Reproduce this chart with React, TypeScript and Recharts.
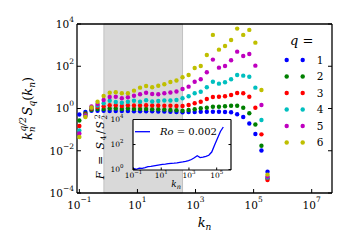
import React from 'react';
import { ScatterChart, Scatter, XAxis, YAxis, ReferenceArea, LineChart, Line } from 'recharts';

// shell wavenumbers k_n
const kn = [0.1, 0.1618, 0.2618, 0.4236, 0.6854, 1.109, 1.794, 2.903, 4.698, 7.601, 12.3, 19.9, 32.2, 52.1, 84.3, 136.4, 220.7, 357.1, 577.8, 934.9, 1512.7, 2447.6, 3960.3, 6407.9, 10368, 16776, 27144, 43920, 71065, 114985, 186050, 301035];

// k_n^{q/2} S_q(k_n) for q = 1..6
const q1 = [0.52, 0.683, 0.787, 0.787, 0.778, 0.762, 0.762, 0.762, 0.762, 0.745, 0.745, 0.737, 0.737, 0.721, 0.721, 0.705, 0.683, 0.661, 0.683, 0.683, 0.705, 0.705, 0.705, 0.705, 0.683, 0.661, 0.531, 0.396, 0.195, 0.0618, 0.0102, 0.00101];
const q2 = [0.27, 0.58, 0.877, 0.947, 0.947, 1.0, 1.0, 0.947, 1.0, 0.947, 0.947, 0.947, 0.917, 0.917, 0.897, 0.849, 0.822, 0.787, 0.849, 0.917, 1.02, 1.09, 1.22, 1.22, 1.27, 1.36, 1.36, 1.09, 0.592, 0.175, 0.0173, 0.000481];
const q3 = [0.148, 0.52, 1.0, 1.18, 1.27, 1.42, 1.42, 1.31, 1.42, 1.39, 1.39, 1.42, 1.39, 1.39, 1.36, 1.36, 1.31, 1.31, 1.47, 1.76, 2.1, 2.82, 3.51, 3.62, 3.79, 4.36, 5.43, 5.25, 3.62, 1.09, 0.0598, 0.000408];
const q4 = [0.0906, 0.466, 1.11, 1.39, 1.76, 2.34, 2.03, 1.88, 2.1, 2.34, 2.1, 2.45, 2.15, 2.27, 2.39, 2.39, 2.53, 3.04, 3.79, 5.25, 6.25, 10.1, 18.6, 15.0, 17.5, 24.2, 38.7, 35.8, 32.1, 9.7, 0.285, 0.000537];
const q5 = [0.0653, 0.441, 1.24, 1.63, 2.53, 3.51, 3.62, 3.04, 3.4, 4.04, 4.71, 5.61, 4.87, 4.71, 5.25, 5.73, 6.4, 8.4, 10.8, 18.6, 24.2, 52, 206, 86, 103, 192, 492, 308, 383, 107, 1.47, 0.000598];
const q6 = [0.0446, 0.396, 1.11, 2.1, 3.91, 5.61, 5.86, 5.25, 5.25, 6.98, 9.7, 11.6, 10.1, 12.0, 14.0, 18.0, 21.2, 30.1, 38.7, 83, 103, 343, 3040, 612, 916, 1760, 6050, 3040, 5250, 1310, 7.5, 0.000745];

// inset: flatness F = S4/S2^2
const flatness = [1.26, 1.05, 1.32, 1.26, 1.45, 1.7, 1.82, 2.0, 2.19, 2.4, 2.63, 2.75, 2.95, 3.16, 3.24, 3.47, 3.8, 4.07, 4.47, 5.13, 6.31, 8.71, 12.6, 9.12, 9.77, 11.5, 13.8, 25.1, 91.2, 316, 1096, 2512];

const qLabels = ['1', '2', '3', '4', '5', '6'];
const colors = ['#0000ff', '#008000', '#ff0000', '#00bfbf', '#bf00bf', '#bfbf00'];
const series = [q1, q2, q3, q4, q5, q6];
const mainXTicks = [0.1, 10, 1000, 1e5, 1e7];
const mainYTicks = [1e-4, 1e-2, 1, 100, 1e4];
const insetXTicks = [0.1, 10, 1000, 1e5];
const insetYTicks = [1, 100, 1e4];
const shade = [0.7, 357];
const roValue = '0.002';

const SERIF = "'DejaVu Serif', serif";

const expOf = (v: number) => {
  const e = Math.round(Math.log10(v));
  return e < 0 ? '\u2212' + String(-e) : String(e);
};

const mkTick = (side: string, len: number, fs: number, sfs: number, off: number, supDy: number, label: boolean) => (props: any) => {
  const { x, y, payload } = props;
  let line;
  let txt = null;
  if (side === 'bottom') {
    line = <line x1={x} x2={x} y1={y} y2={y - len} stroke="#000" strokeWidth={1} />;
    if (label) txt = (
      <text x={x} y={y + off} textAnchor="middle" fontFamily={SERIF} fontSize={fs} fill="#000">
        10<tspan dy={supDy} fontSize={sfs}>{expOf(payload.value)}</tspan>
      </text>
    );
  } else if (side === 'top') {
    line = <line x1={x} x2={x} y1={y} y2={y + len} stroke="#000" strokeWidth={1} />;
  } else if (side === 'left') {
    line = <line x1={x} x2={x + len} y1={y} y2={y} stroke="#000" strokeWidth={1} />;
    if (label) txt = (
      <text x={x - off} y={y + fs * 0.36} textAnchor="end" fontFamily={SERIF} fontSize={fs} fill="#000">
        10<tspan dy={supDy} fontSize={sfs}>{expOf(payload.value)}</tspan>
      </text>
    );
  } else {
    line = <line x1={x} x2={x - len} y1={y} y2={y} stroke="#000" strokeWidth={1} />;
  }
  return <g>{line}{txt}</g>;
};

const axisCommon = {
  type: 'number' as const,
  scale: 'log' as const,
  allowDataOverflow: true,
  tickLine: false,
  tickSize: 0,
  tickMargin: 0,
  interval: 0 as const,
};

const mainDomX: [number, number] = [0.083, 5e7];
const mainDomY: [number, number] = [1e-4, 1e4];
const insDomX: [number, number] = [0.092, 1.08e6];
const insDomY: [number, number] = [0.92, 1e4];

export default function App() {
  const scatterData = series.map((s) => s.map((v, i) => ({ k: kn[i], v })));
  const insetData = kn.map((k, i) => ({ k, F: flatness[i] }));
  const mainAxisLine = { stroke: '#000', strokeWidth: 1.3 };
  const insAxisLine = { stroke: '#000', strokeWidth: 1.2 };
  const rowY = [52, 68.5, 85, 101.5, 118, 134.5];

  return (
    <div style={{ position: 'relative', width: 334, height: 234, overflow: 'hidden' }}>
      <ScatterChart width={334} height={234} margin={{ top: 15, right: 9, bottom: 0, left: 0 }}>
        <XAxis xAxisId="b" dataKey="k" {...axisCommon} domain={mainDomX} ticks={mainXTicks} height={49} axisLine={mainAxisLine}
          tick={mkTick('bottom', 4, 10.5, 7.5, 15.5, -6.5, true)} />
        <XAxis xAxisId="t" orientation="top" {...axisCommon} domain={mainDomX} ticks={mainXTicks} height={1} axisLine={mainAxisLine}
          tick={mkTick('top', 4, 10.5, 7.5, 0, 0, false)} />
        <YAxis yAxisId="l" dataKey="v" {...axisCommon} domain={mainDomY} ticks={mainYTicks} width={69} axisLine={mainAxisLine}
          tick={mkTick('left', 4, 10.5, 7.5, 3, -6, true)} />
        <YAxis yAxisId="r" orientation="right" {...axisCommon} domain={mainDomY} ticks={mainYTicks} width={1} axisLine={mainAxisLine}
          tick={mkTick('right', 4, 10.5, 7.5, 0, 0, false)} />
        <ReferenceArea xAxisId="b" yAxisId="l" x1={shade[0]} x2={shade[1]} y1={mainDomY[0]} y2={mainDomY[1]} fill="#d9d9d9" fillOpacity={1} stroke="#c2c2c2" strokeWidth={1} />
        {scatterData.map((d, si) => (
          <Scatter key={si} xAxisId="b" yAxisId="l" data={d} dataKey="v" isAnimationActive={false}
            shape={(p: any) => <circle cx={p.cx} cy={p.cy} r={2.2} fill={colors[si]} />} />
        ))}
      </ScatterChart>

      <div style={{ position: 'absolute', left: 125, top: 111.5, width: 98, height: 50.5, background: '#fff' }} />

      <div style={{ position: 'absolute', left: 85, top: 100 }}>
        <LineChart width={150} height={95} data={insetData} margin={{ top: 10.5, right: 11, bottom: 0, left: 0 }}>
          <XAxis xAxisId="b" dataKey="k" {...axisCommon} domain={insDomX} ticks={insetXTicks} height={33} axisLine={insAxisLine}
            tick={mkTick('bottom', 2.5, 7.5, 5.5, 8.3, -4, true)} />
          <XAxis xAxisId="t" orientation="top" {...axisCommon} domain={insDomX} ticks={insetXTicks} height={1} axisLine={insAxisLine}
            tick={mkTick('top', 2.5, 7.5, 5.5, 0, 0, false)} />
          <YAxis yAxisId="l" {...axisCommon} domain={insDomY} ticks={insetYTicks} width={40} axisLine={insAxisLine}
            tick={mkTick('left', 2.5, 7.5, 5.5, 9.5, -4, true)} />
          <YAxis yAxisId="r" orientation="right" {...axisCommon} domain={insDomY} ticks={insetYTicks} width={1} axisLine={insAxisLine}
            tick={mkTick('right', 2.5, 7.5, 5.5, 0, 0, false)} />
          <Line xAxisId="b" yAxisId="l" type="linear" dataKey="F" stroke="#0000ff" strokeWidth={1.3} dot={false} isAnimationActive={false} />
        </LineChart>
      </div>

      <svg width={334} height={234} style={{ position: 'absolute', left: 0, top: 0, pointerEvents: 'none' }}>
        {/* main y label */}
        <text transform="translate(23.5,100.5) rotate(-90)" textAnchor="middle" fontFamily={SERIF} fontSize={13} fontStyle="italic" fill="#000">
          <tspan>k</tspan>
          <tspan fontSize={9} dy={3}>n</tspan>
          <tspan fontSize={9} dx={-5} dy={-9}>q/2</tspan>
          <tspan dx={1.5} dy={6}>S</tspan>
          <tspan fontSize={9} dy={3}>q</tspan>
          <tspan fontStyle="normal" dy={-3}>(</tspan>
          <tspan>k</tspan>
          <tspan fontSize={9} dy={3}>n</tspan>
          <tspan fontStyle="normal" dy={-3}>)</tspan>
        </text>
        {/* main x label */}
        <text x={196.5} y={218.5} textAnchor="middle" fontFamily={SERIF} fontSize={13} fontStyle="italic" fill="#000">
          <tspan>k</tspan>
          <tspan fontSize={9} dy={3}>n</tspan>
        </text>
        {/* legend */}
        <text x={282} y={37} fontFamily={SERIF} fontSize={13} fill="#000">
          <tspan fontStyle="italic">q</tspan>
          <tspan>{' ='}</tspan>
        </text>
        {qLabels.map((lab, i) => (
          <g key={lab}>
            <circle cx={278.7} cy={rowY[i]} r={2.2} fill={colors[i]} />
            <circle cx={294.7} cy={rowY[i]} r={2.2} fill={colors[i]} />
            <text x={308.7} y={rowY[i] + 3.8} fontFamily={SERIF} fontSize={10.5} fill="#000">{lab}</text>
          </g>
        ))}
        {/* inset legend */}
        <line x1={127} x2={142} y1={123.7} y2={123.7} stroke="#0000ff" strokeWidth={1.3} />
        <text x={152} y={127.2} fontFamily={SERIF} fontSize={10} fill="#000">
          <tspan fontStyle="italic">Ro</tspan>
          <tspan>{' = ' + roValue}</tspan>
        </text>
        {/* inset x label */}
        <text x={168} y={179} textAnchor="middle" fontFamily={SERIF} fontSize={9} fontStyle="italic" fill="#000">
          <tspan>k</tspan>
          <tspan fontSize={6.5} dy={2}>n</tspan>
        </text>
        {/* inset y label */}
        <text transform="translate(96,138) rotate(-90)" textAnchor="middle" fontFamily={SERIF} fontSize={11} letterSpacing={1.5} fill="#000">
          <tspan fontStyle="italic">F</tspan>
          <tspan>{' = '}</tspan>
          <tspan fontStyle="italic">S</tspan>
          <tspan fontSize={7.5} dy={2}>4</tspan>
          <tspan dy={-2}>/</tspan>
          <tspan fontStyle="italic">S</tspan>
          <tspan fontSize={7.5} dy={2.5}>2</tspan>
          <tspan fontSize={7.5} dx={-5.5} dy={-7}>2</tspan>
        </text>
      </svg>
    </div>
  );
}
